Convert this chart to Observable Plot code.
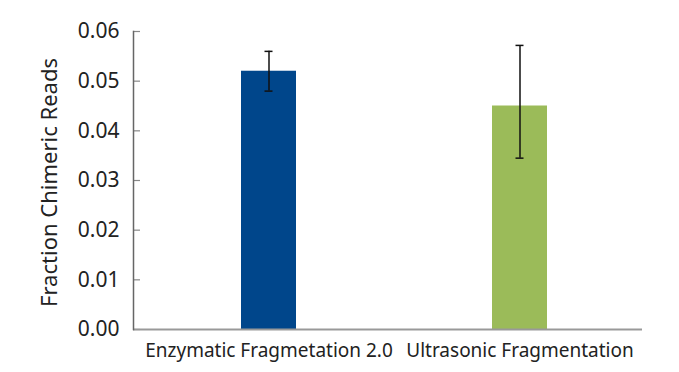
<!DOCTYPE html>
<html>
<head>
<meta charset="utf-8">
<script src="https://cdn.jsdelivr.net/npm/d3@7"></script>
<script src="https://cdn.jsdelivr.net/npm/@observablehq/plot@0.6"></script>
<style>
  html, body { margin: 0; padding: 0; background: #fff; }
  #chart svg { display: block; }
</style>
</head>
<body>
<div id="chart"></div>
<script>
const categories = ["Enzymatic Fragmetation 2.0", "Ultrasonic Fragmentation"];
const values = [0.052, 0.045];
const errLow = [0.048, 0.0345];
const errHigh = [0.056, 0.0572];
const colors = ["#00468b", "#9bbb59"];
const yTicks = [0, 0.01, 0.02, 0.03, 0.04, 0.05, 0.06];
const yLabel = "Fraction Chimeric Reads";

const data = categories.map((c, i) => ({cat: c, value: values[i], lo: errLow[i], hi: errHigh[i], color: colors[i]}));

const font = "'Noto Sans', 'DejaVu Sans', sans-serif";

const chart = Plot.plot({
  width: 679,
  height: 372,
  marginLeft: 133,
  marginRight: 37,
  marginTop: 31,
  marginBottom: 43,
  style: {fontFamily: font, background: "#fff", color: "#222"},
  x: {domain: categories, range: [142.5, 644.5], paddingInner: 0.781, paddingOuter: 0.39, align: 0.5},
  y: {domain: [0, 0.06]},
  marks: [
    Plot.barY(data, {x: "cat", y: "value", fill: "color"}),
    Plot.ruleX(data, {x: "cat", y1: "lo", y2: "hi", stroke: "#111", strokeWidth: 1.5}),
    Plot.tickY(data, {x: "cat", y: "lo", stroke: "#111", strokeWidth: 1.5, insetLeft: 23.5, insetRight: 23.5}),
    Plot.tickY(data, {x: "cat", y: "hi", stroke: "#111", strokeWidth: 1.5, insetLeft: 23.5, insetRight: 23.5}),
    Plot.axisY({ticks: yTicks, tickSize: 0, tickPadding: 14, tickFormat: d3.format(".2f"), fontSize: 21, label: null, fill: "#222"}),
    Plot.axisY({ticks: yTicks, tickSize: -7, tickFormat: () => "", stroke: "#888", strokeWidth: 1.2, label: null}),
    Plot.axisX({tickSize: 0, tickPadding: 14, fontSize: 19, label: null, fill: "#222"}),
    Plot.ruleY([0], {stroke: "#999", strokeWidth: 2}),
    Plot.frame({anchor: "left", stroke: "#666", strokeWidth: 1.5}),
    Plot.text([yLabel], {frameAnchor: "left", textAnchor: "middle", rotate: -90, dx: -84, dy: 2, fontSize: 22, fill: "#222"})
  ]
});
document.getElementById("chart").appendChild(chart);
</script>
</body>
</html>
